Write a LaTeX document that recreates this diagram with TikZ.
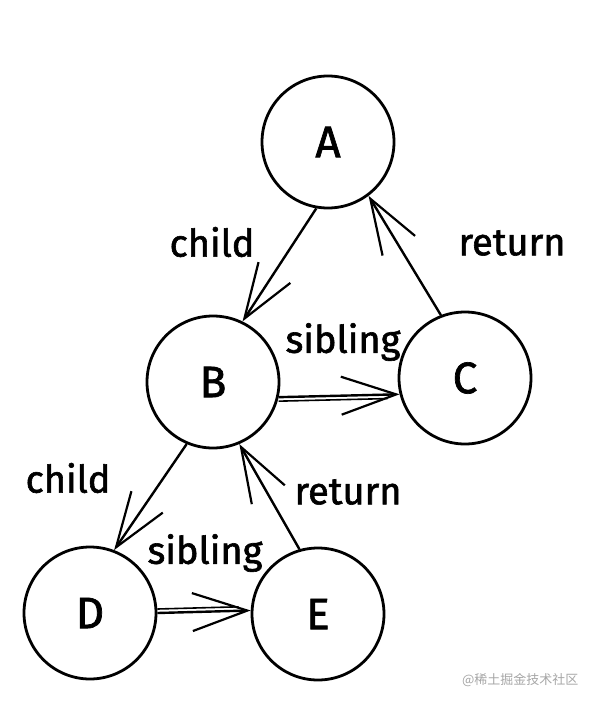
\documentclass[tikz,border=0pt]{standalone}
\usepackage{fontspec}
\setmainfont[FakeBold=1.6,BoldFont={Fira Sans}]{Fira Sans}
\newfontfamily\cjkfont{Noto Sans CJK SC}
\usetikzlibrary{arrows.meta}

\begin{document}
\begin{tikzpicture}[
    x=1pt, y=-1pt,
    vertex/.style={circle, draw=black, line width=2.8pt, fill=white,
        minimum size=132pt, inner sep=0pt, font=\fontsize{44}{44}\selectfont\bfseries},
    tag/.style={font=\fontsize{38}{40}\selectfont\bfseries},
    edge/.style={line width=2.4pt, -{Straight Barb[length=55pt, width=38pt, line width=2.2pt]}},
    echo/.style={line width=1.6pt, shorten >=12pt}
]
    \useasboundingbox (0,0) rectangle (598,706);
    \node[vertex] (a) at (328,142) {A};
    \node[vertex] (b) at (213,382) {B};
    \node[vertex] (c) at (465,378) {C};
    \node[vertex] (d) at (90,613) {D};
    \node[vertex] (e) at (318,614) {E};
    \draw[edge] (a.260) -- (b.64);
    \draw[edge] (c.111) -- (a.307);
    \draw[edge] (b.-13) -- (c.194);
    \draw[echo] ([yshift=-4pt]b.-13) -- ([yshift=-4pt]c.194);
    \draw[edge] (b.247) -- (d.69);
    \draw[edge] (e.106) -- (b.293);
    \draw[edge] (d.0) -- (e.177);
    \draw[echo] ([yshift=4pt]d.0) -- ([yshift=4pt]e.177);
    \node[tag] (child1) at (212,242) {child};
    \node[tag] (return1) at (512,243) {return};
    \node[tag] (sibling1) at (343,342) {sibling};
    \node[tag] (child2) at (68,478) {child};
    \node[tag] (return2) at (348,492) {return};
    \node[tag] (sibling2) at (205,553) {sibling};
    \node[anchor=east, text=gray!70, font=\cjkfont\fontsize{13}{13}\selectfont] (mark) at (582,680) {@稀土掘金技术社区};
\end{tikzpicture}
\end{document}
